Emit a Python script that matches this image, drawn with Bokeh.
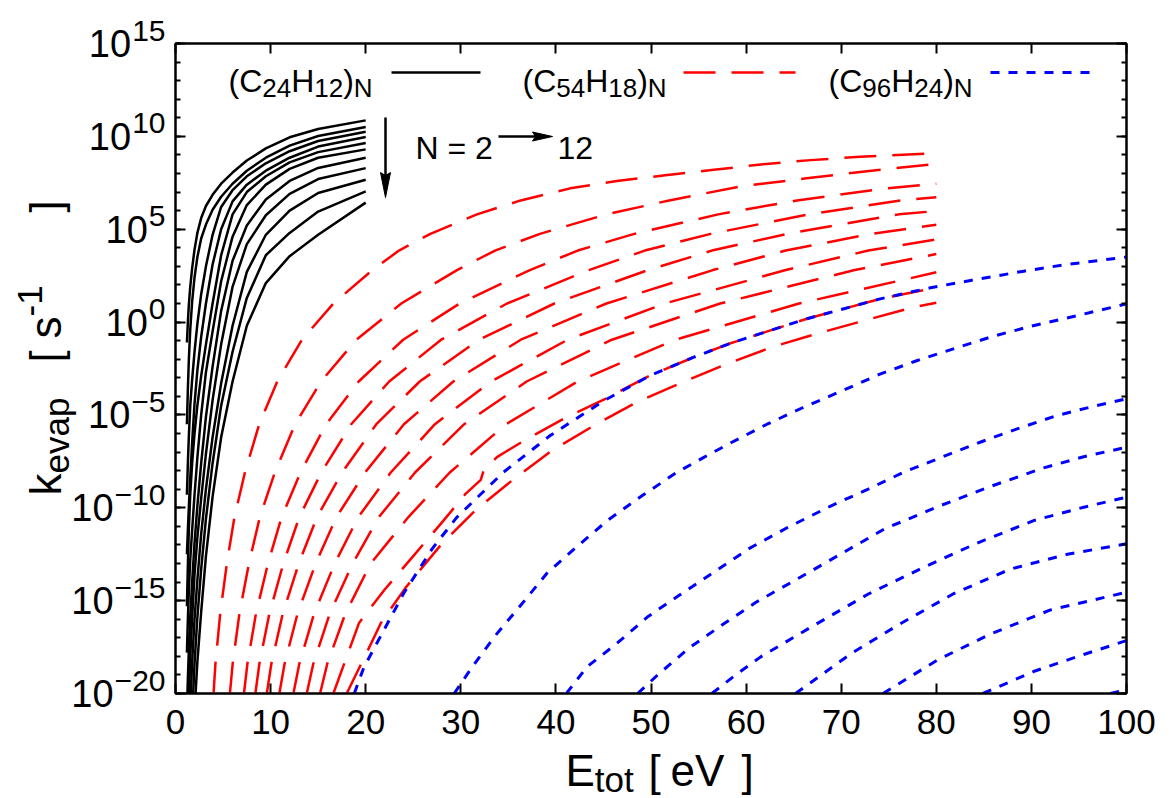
import math
from bokeh.plotting import figure
from bokeh.layouts import row, column
from bokeh.models import Range1d, FixedTicker, LinearAxis, LogAxis, Label
from bokeh.embed import file_html
from bokeh.resources import INLINE

# ---------------- data (log10 k_evap [s^-1] vs E_tot [eV]) ----------------
x_ticks = [0, 10, 20, 30, 40, 50, 60, 70, 80, 90, 100]
y_major_exp = [-20, -15, -10, -5, 0, 5, 10, 15]
y_minor_exp = list(range(-20, 16))

# (C24H12)_N, N = 2 .. 12, common energy grid
c24_E = [1.2, 1.3, 1.4, 1.55, 1.75, 2.0, 2.3, 2.7, 3.2, 3.9, 4.8, 6.0, 7.5, 9.5, 12, 15, 20]
c24_n2 = [-1.1, 0.0, 0.9, 1.9, 2.9, 3.9, 4.8, 5.6, 6.25, 6.85, 7.45, 8.05, 8.7, 9.35, 9.95, 10.4, 10.86]
c24_n3 = [-5.5, -3.6, -2.07, -0.4, 1.1, 2.4, 3.5, 4.5, 5.25, 6.05, 6.75, 7.45, 8.15, 8.85, 9.5, 10.02, 10.5]
c24_n4 = [-9.3, -7.6, -6.2, -4.5, -3.1, -1.6, -0.1, 1.5, 3.0, 4.7, 6.2, 7.1, 7.85, 8.55, 9.2, 9.75, 10.25]
c24_n5 = [-12.5, -11.2, -10.0, -8.4, -6.5, -4.4, -2.6, -0.8, 1.0, 3.1, 5.0, 6.5, 7.4, 8.15, 8.85, 9.45, 9.97]
c24_n6 = [-15.3, -13.1, -11.2, -9.3, -7.6, -6.0, -4.5, -2.9, -1.2, 1.0, 3.6, 5.8, 7.0, 7.85, 8.6, 9.15, 9.64]
c24_n7 = [-17.8, -16.0, -14.5, -12.8, -11.2, -9.3, -7.3, -5.0, -2.7, -0.5, 2.2, 4.6, 6.3, 7.4, 8.25, 8.85, 9.3]
c24_n8 = [-21.0, -19.2, -17.7, -15.9, -14.0, -11.9, -9.9, -7.6, -5.1, -2.4, 0.6, 3.3, 5.2, 6.6, 7.6, 8.3, 8.85]
c24_n9 = [-24, -22, -20.2, -18.0, -15.9, -13.6, -11.6, -9.5, -7.1, -4.2, -1.2, 1.9, 4.2, 5.75, 6.9, 7.7, 8.29]
c24_n10 = [-27, -25, -23.2, -20.8, -18.3, -16.0, -13.9, -11.4, -9.0, -6.2, -3.3, -0.2, 2.7, 4.7, 6.0, 6.95, 7.66]
c24_n11 = [-30, -28, -26.3, -24, -21.2, -18.4, -15.9, -13.3, -10.6, -7.6, -4.5, -1.6, 1.3, 3.6, 4.8, 5.95, 7.04]
c24_n12 = [-34, -32, -30, -27.5, -24.5, -21.0, -18.3, -15.6, -12.6, -9.4, -6.2, -3.2, -0.2, 2.1, 3.55, 4.7, 6.43]

# (C54H18)_N, N = 2 .. 12
c54_n2_E = [4.0, 4.2, 4.7, 5.4, 6.2, 7.3, 8.8, 10.7, 13.3, 16.6, 20.7, 23.5, 26.8, 31.7, 36.3, 41.5, 46.4, 51.5, 56.6, 61.8, 66.8, 72, 80]
c54_n2_k = [-20, -18.4, -15.7, -13.0, -10.5, -8.1, -5.5, -3.2, -0.95, 1.0, 2.8, 3.85, 4.75, 5.8, 6.55, 7.2, 7.6, 7.9, 8.2, 8.5, 8.72, 8.9, 9.1]
c54_n3_E = [5.72, 6.01, 6.72, 7.72, 8.87, 10.44, 12.58, 15.3, 19.02, 23.74, 29.6, 33.6, 38.32, 45.33, 51.91, 59.35, 66.35, 73.65, 80]
c54_n3_k = [-20, -18.4, -15.7, -13.0, -10.5, -8.1, -5.5, -3.2, -0.95, 1.0, 2.8, 3.85, 4.75, 5.8, 6.55, 7.3, 7.74, 8.18, 8.52]
c54_n4_E = [7.2, 7.56, 8.46, 9.72, 11.16, 13.14, 15.84, 19.26, 23.94, 29.88, 37.26, 42.3, 48.24, 57.06, 65.34, 74.7, 80]
c54_n4_k = [-20, -18.4, -15.7, -13.0, -10.5, -8.1, -5.5, -3.2, -0.95, 1.0, 2.8, 3.85, 4.75, 5.8, 6.55, 7.2, 7.45]
c54_n5_E = [8.4, 8.82, 9.87, 11.34, 13.02, 15.33, 18.48, 22.47, 27.93, 34.86, 43.47, 49.35, 56.28, 66.57, 76.23, 80]
c54_n5_k = [-20, -18.4, -15.7, -13.0, -10.5, -8.1, -5.5, -3.2, -0.95, 1.0, 2.8, 3.85, 4.75, 5.8, 6.55, 6.72]
c54_n6_E = [9.6, 10.08, 11.28, 12.96, 14.88, 17.52, 21.12, 25.68, 31.92, 39.84, 49.68, 56.4, 64.32, 76.08, 80]
c54_n6_k = [-20, -18.4, -15.7, -13.0, -10.5, -8.1, -5.5, -3.2, -0.95, 1.0, 2.8, 3.85, 4.75, 5.8, 5.98]
c54_n7_E = [10.92, 11.47, 12.83, 14.74, 16.93, 19.93, 24.02, 29.21, 36.31, 45.32, 56.51, 64.16, 73.16, 80]
c54_n7_k = [-20, -18.4, -15.7, -13.0, -10.5, -8.1, -5.5, -3.2, -0.95, 1.0, 2.8, 3.85, 4.75, 5.24]
c54_n8_E = [12.4, 13.02, 14.57, 16.74, 19.22, 22.63, 27.28, 33.17, 41.23, 51.46, 64.17, 72.85, 80]
c54_n8_k = [-20, -18.4, -15.7, -13.0, -10.5, -8.1, -5.5, -3.2, -0.95, 1.0, 2.8, 3.85, 4.45]
c54_n9_E = [13.8, 14.49, 16.22, 18.63, 21.39, 25.19, 30.36, 36.92, 45.89, 57.27, 71.42, 80]
c54_n9_k = [-20, -18.4, -15.7, -13.0, -10.5, -8.1, -5.5, -3.2, -0.95, 1.0, 2.8, 3.66]
c54_n10_E = [15.2, 15.96, 17.86, 20.52, 24.49, 28.84, 34.76, 42.27, 52.54, 65.57, 80]
c54_n10_k = [-20, -18.4, -15.7, -13.0, -10.5, -8.1, -5.5, -3.2, -0.95, 1.0, 2.68]
c54_n11_E = [16.6, 19.3, 22, 25, 28, 30.5, 32.1, 32.4, 33.8, 36.6, 40.8, 45.2, 49.9, 54.5, 58.2, 62, 66.4, 70.3, 74.1, 80]
c54_n11_k = [-20, -16.2, -14.4, -12.6, -10.8, -9.25, -8.5, -8.0, -7.27, -6.4, -5.21, -4.13, -2.88, -1.89, -1.17, -0.54, 0.18, 0.72, 1.25, 1.85]
c54_n12_E = [18.0, 20.2, 21.6, 24.2, 27.9, 31.5, 35.6, 39.6, 44.0, 48.5, 53.3, 58.0, 62.7, 67.6, 72.7, 77.6, 80]
c54_n12_k = [-20, -17.7, -16.2, -14.3, -12.0, -10.15, -8.44, -6.91, -5.57, -4.31, -3.24, -2.25, -1.35, -0.6, 0.12, 0.8, 1.04]

# (C96H24)_N, N = 2 .. 10 (higher N lie below the plotted range)
c96_n2_E = [18.8, 19.8, 24.0, 27.0, 29.6, 34.5, 39.4, 45.1, 49.9, 54.5, 58.2, 62.0, 66.4, 70.3, 74.1, 79.4, 83.6, 89.2, 93.4, 100]
c96_n2_k = [-20, -18.6, -14.6, -12.2, -10.5, -8.08, -6.11, -4.22, -2.88, -1.89, -1.17, -0.54, 0.18, 0.72, 1.25, 1.85, 2.24, 2.74, 3.08, 3.5]
c96_n3_E = [29.3, 31.3, 33.6, 36.3, 39.1, 42.3, 45.5, 49.2, 52.7, 55.6, 58.4, 62.2, 66.0, 70.0, 74.0, 78.0, 81.8, 86.0, 90.0, 94.2, 100]
c96_n3_k = [-20, -18.5, -16.9, -15.25, -13.5, -12.05, -10.65, -9.3, -8.1, -7.27, -6.5, -5.5, -4.6, -3.72, -2.82, -2.07, -1.44, -0.76, -0.22, 0.27, 0.98]
c96_n4_E = [41.1, 43.3, 46.3, 49.7, 53.0, 56.5, 60.3, 64.4, 69.0, 72.9, 76.6, 80.6, 84.6, 88.5, 92.7, 96.9, 100]
c96_n4_k = [-20, -18.55, -17.35, -15.85, -14.7, -13.5, -12.2, -11.05, -9.88, -8.98, -8.08, -7.27, -6.47, -5.75, -5.03, -4.49, -4.13]
c96_n5_E = [48.6, 50.7, 54.0, 57.5, 61.0, 65.7, 70.6, 74.5, 80.1, 85.7, 91.3, 95.5, 100]
c96_n5_k = [-20, -19.0, -17.55, -16.3, -15.1, -13.74, -12.3, -11.15, -9.95, -8.85, -7.85, -7.25, -6.74]
c96_n6_E = [56.4, 58.9, 61.5, 66.8, 72.9, 78.7, 84.3, 90.3, 95.5, 100]
c96_n6_k = [-20, -19.0, -18.04, -16.43, -14.63, -13.2, -11.9, -10.68, -9.97, -9.43]
c96_n7_E = [65.2, 71.0, 76.2, 81.8, 87.8, 93.8, 100]
c96_n7_k = [-20, -17.86, -16.25, -14.63, -13.3, -12.5, -11.94]
c96_n8_E = [74.4, 80.1, 85.7, 92.0, 100]
c96_n8_k = [-20, -18.2, -16.8, -15.5, -14.55]
c96_n9_E = [84.9, 90.3, 95.5, 100]
c96_n9_k = [-20, -18.8, -17.9, -17.15]
c96_n10_E = [98.3, 100]
c96_n10_k = [-20, -19.8]

# ---------------- styling / layout (window pixels) ----------------
FONT = "Liberation Sans"
FS_XTICK, FS_YTICK, FS_YEXP = 35, 38, 30
FS_AX, FS_AXS = 44, 35
FS_LEG, FS_LEGS = 32, 26
BLACK, RED, BLUE = "#000000", "#ff0000", "#0000ff"
LW_K, LW_R, LW_B = 2.5, 2.5, 3.0

WIN_W, WIN_H = 1171, 798
FRAME_L, FRAME_T, FRAME_R, FRAME_B = 175, 43, 1126, 693
YLAB_W = 165                # left strip: y tick labels and y-axis title
MAIN_B = 3                  # main plot bottom border (x tick labels live in the strip below)
MAIN_W = WIN_W - YLAB_W
MAIN_H = FRAME_B + MAIN_B
XLAB_H = WIN_H - MAIN_H
XLAB_TOP = 34               # strip's top border holding the x tick labels
DEC_PER_PX = 35.0 / (FRAME_B - FRAME_T)

p = figure(width=MAIN_W, height=MAIN_H, x_range=Range1d(0, 100), y_range=Range1d(1e-20, 1e15),
           y_axis_type="log", output_backend="svg", toolbar_location=None,
           min_border_left=FRAME_L - YLAB_W, min_border_right=WIN_W - FRAME_R,
           min_border_top=FRAME_T, min_border_bottom=MAIN_B)
p.background_fill_color = "white"
p.border_fill_color = "white"
p.outline_line_color = "black"
p.outline_line_width = 2
p.grid.visible = False


def style_axis(ax):
    ax.axis_line_width = 2
    ax.major_tick_in = 10
    ax.major_tick_out = 0
    ax.minor_tick_in = 5
    ax.minor_tick_out = 0
    ax.major_tick_line_width = 2
    ax.minor_tick_line_width = 2
    ax.major_label_text_font_size = "1px"      # labels are drawn in the side strips
    ax.major_label_text_color = None
    ax.major_label_standoff = 0


y_tick_vals = [10.0 ** e for e in y_major_exp]
y_minor_vals = [10.0 ** e for e in y_minor_exp]
p.xaxis.ticker = FixedTicker(ticks=x_ticks, minor_ticks=[])
style_axis(p.xaxis[0])
p.yaxis.ticker = FixedTicker(ticks=y_tick_vals, minor_ticks=y_minor_vals)
style_axis(p.yaxis[0])
top = LinearAxis(ticker=FixedTicker(ticks=x_ticks, minor_ticks=[]))
style_axis(top)
p.add_layout(top, "above")
right = LogAxis(ticker=FixedTicker(ticks=y_tick_vals, minor_ticks=y_minor_vals))
style_axis(right)
p.add_layout(right, "right")

# ---------------- curves ----------------
for ks in [c24_n2, c24_n3, c24_n4, c24_n5, c24_n6, c24_n7, c24_n8, c24_n9, c24_n10, c24_n11, c24_n12]:
    p.line(c24_E, [10.0 ** v for v in ks], line_color=BLACK, line_width=LW_K, line_join="round")

red_sets = [(c54_n2_E, c54_n2_k), (c54_n3_E, c54_n3_k), (c54_n4_E, c54_n4_k), (c54_n5_E, c54_n5_k),
            (c54_n6_E, c54_n6_k), (c54_n7_E, c54_n7_k), (c54_n8_E, c54_n8_k), (c54_n9_E, c54_n9_k),
            (c54_n10_E, c54_n10_k), (c54_n11_E, c54_n11_k), (c54_n12_E, c54_n12_k)]
for es, ks in red_sets:
    p.line(es, [10.0 ** v for v in ks], line_color=RED, line_width=LW_R, line_dash="32 16", line_join="round")

blue_sets = [(c96_n2_E, c96_n2_k), (c96_n3_E, c96_n3_k), (c96_n4_E, c96_n4_k), (c96_n5_E, c96_n5_k),
             (c96_n6_E, c96_n6_k), (c96_n7_E, c96_n7_k), (c96_n8_E, c96_n8_k), (c96_n9_E, c96_n9_k),
             (c96_n10_E, c96_n10_k)]
for es, ks in blue_sets:
    p.line(es, [10.0 ** v for v in ks], line_color=BLUE, line_width=LW_B, line_dash="9 9", line_join="round")

# ---------------- text helpers ----------------
ADV = {'(': 0.333, ')': 0.333, '[': 0.278, ']': 0.278, ' ': 0.278, '-': 0.333, '\u2212': 0.584,
       '=': 0.584, 'C': 0.722, 'H': 0.722, 'N': 0.722, 'E': 0.667, 'V': 0.667, 'k': 0.5, 'v': 0.5,
       's': 0.5, 't': 0.278, 'e': 0.556, 'a': 0.556, 'p': 0.556, 'o': 0.556}


def tw(s, fs):
    return sum(ADV.get(c, 0.556) for c in s) * fs


FRAME_W, FRAME_H = float(FRAME_R - FRAME_L), float(FRAME_B - FRAME_T)


def fx(px):  # frame pixel -> data x
    return px * 100.0 / FRAME_W


def fy(py):  # frame pixel from top -> data y
    return 10.0 ** (15 - py * 35.0 / FRAME_H)


def lab(fig, x, y, dx, dy, text, fs, align="left", baseline="alphabetic", angle=0.0):
    fig.add_layout(Label(x=x, y=y, x_offset=dx, y_offset=dy, text=text, text_font=FONT,
                         text_font_size=f"{fs}px", text_align=align, text_baseline=baseline,
                         text_color="black", angle=angle))


# legend (text, then line sample) inside the frame
SUB = -7
leg_text = [
    [("(C", FS_LEG, 0), ("24", FS_LEGS, SUB), ("H", FS_LEG, 0), ("12", FS_LEGS, SUB), (")", FS_LEG, 0), ("N", FS_LEGS, SUB)],
    [("(C", FS_LEG, 0), ("54", FS_LEGS, SUB), ("H", FS_LEG, 0), ("18", FS_LEGS, SUB), (")", FS_LEG, 0), ("N", FS_LEGS, SUB)],
    [("(C", FS_LEG, 0), ("96", FS_LEGS, SUB), ("H", FS_LEG, 0), ("24", FS_LEGS, SUB), (")", FS_LEG, 0), ("N", FS_LEGS, SUB)],
]
leg_x = [53, 347, 653]
leg_line = [(216, 305, BLACK, "solid", LW_K), (508, 620, RED, "32 16", LW_R), (815, 918, BLUE, "9 9", LW_B)]
for pieces, lx, (a, b, col, dash, lw) in zip(leg_text, leg_x, leg_line):
    cur = lx
    for txt, fs, sh in pieces:
        lab(p, 0, 1e15, cur, -37 + sh, txt, fs)
        cur += tw(txt, fs)
    p.line([fx(a), fx(b)], [fy(29), fy(29)], line_color=col, line_width=lw, line_dash=dash)

# "N = 2 -> 12" annotation
lab(p, 0, 1e15, 240, -104, "N", FS_LEG)
lab(p, 0, 1e15, 240 + tw("N ", FS_LEG), -104, "=", FS_LEG)
lab(p, 0, 1e15, 240 + tw("N = ", FS_LEG), -104, "2", FS_LEG)
lab(p, 0, 1e15, 382, -104, "12", FS_LEG)
p.line([fx(323), fx(362)], [fy(93), fy(93)], line_color=BLACK, line_width=2.5)
p.patch([fx(357), fx(377), fx(357), fx(360)], [fy(88.5), fy(93), fy(97.5), fy(93)],
        fill_color=BLACK, line_color=BLACK, line_width=1)
p.line([fx(210), fx(210)], [fy(74), fy(135)], line_color=BLACK, line_width=2.5)
p.patch([fx(205), fx(210), fx(215), fx(210)], [fy(129), fy(154), fy(129), fy(132)],
        fill_color=BLACK, line_color=BLACK, line_width=1)


# ---------------- side strips ----------------
def strip(w, h, xr, yr, borders, y_log=False):
    f = figure(width=w, height=h, x_range=xr, y_range=yr, y_axis_type="log" if y_log else "linear",
               x_axis_location=None, y_axis_location=None, output_backend="svg",
               toolbar_location=None, min_border_left=borders[0], min_border_right=borders[1],
               min_border_top=borders[2], min_border_bottom=borders[3])
    f.outline_line_color = None
    f.background_fill_color = "white"
    f.border_fill_color = "white"
    f.xgrid.visible = False
    f.ygrid.visible = False
    return f


# left strip: same log scale as the main plot, spanning the whole window height
y_lo = 10.0 ** (-20 - (WIN_H - FRAME_B) * DEC_PER_PX)
y_hi = 10.0 ** (15 + FRAME_T * DEC_PER_PX)
yl = strip(YLAB_W, WIN_H, Range1d(0, YLAB_W), Range1d(y_lo, y_hi), (0, 0, 0, 0), y_log=True)

# y tick labels 10^n (base + raised exponent), right-aligned 10 px left of the axis
TICK_RIGHT = FRAME_L - 10
for e in y_major_exp:
    s = str(e).replace("-", "\u2212")
    lab(yl, TICK_RIGHT, 10.0 ** e, 0, 13, s, FS_YEXP, align="right", baseline="middle")
    lab(yl, TICK_RIGHT, 10.0 ** e, -tw(s, FS_YEXP) - 1, 0, "10", FS_YTICK, align="right", baseline="middle")

# y title: k_evap [ s^-1 ], rotated, reading upward
BASE_X = 45
y_pieces = [("k", FS_AX, 0, 495), ("evap", FS_AXS, -11, 495 - tw("k", FS_AX)),
            ("[", FS_AX, 0, 362), ("s", FS_AX, 0, 338), ("-1", FS_AXS, 16, 338 - tw("s", FS_AX)),
            ("]", FS_AX, 0, 212)]
for txt, fs, sh, ywin in y_pieces:
    lab(yl, BASE_X - sh, y_lo, 0, WIN_H - ywin, txt, fs, angle=math.pi / 2)

# bottom strip: x tick labels (axis above its frame) and x title E_tot [ eV ]
xl = strip(MAIN_W, XLAB_H, Range1d(0, 100), Range1d(0, 1),
           (FRAME_L - YLAB_W, WIN_W - FRAME_R, XLAB_TOP, 0))
xax = LinearAxis(ticker=FixedTicker(ticks=x_ticks, minor_ticks=[]))
xax.axis_line_color = None
xax.major_tick_line_color = None
xax.minor_tick_line_color = None
xax.major_tick_in = 0
xax.major_tick_out = 0
xax.major_label_text_font = FONT
xax.major_label_text_font_size = f"{FS_XTICK}px"
xax.major_label_text_color = "black"
xax.major_label_standoff = -3
xl.add_layout(xax, "above")

BASE_Y = 770
x_pieces = [("E", FS_AX, 0, 565), ("tot", FS_AXS, -9, 565 + tw("E", FS_AX)),
            ("[", FS_AX, 0, 648), ("eV", FS_AX, 0, 670), ("]", FS_AX, 0, 741)]
for txt, fs, sh, xwin in x_pieces:
    lab(xl, fx(xwin - FRAME_L), 0, 0, WIN_H - BASE_Y + sh, txt, fs)

layout = row(yl, column(p, xl))
open("out.html", "w").write(file_html(layout, INLINE))
